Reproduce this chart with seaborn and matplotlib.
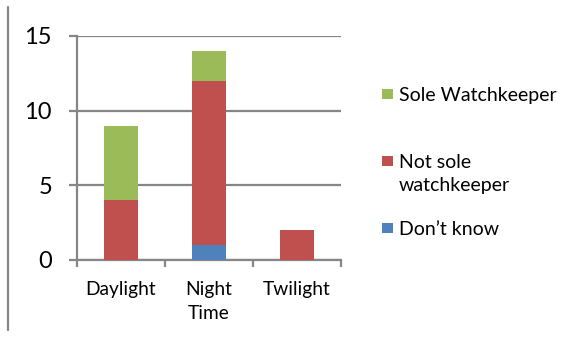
import matplotlib
matplotlib.use("Agg")
import matplotlib.pyplot as plt
import seaborn as sns
import pandas as pd
import numpy as np
from matplotlib.patches import Rectangle
from matplotlib.lines import Line2D

categories = ["Daylight", "Night\nTime", "Twilight"]
dont_know = [0, 1, 0]
not_sole = [4, 11, 2]
sole = [5, 2, 0]
series_names = ["Sole Watchkeeper", "Not sole\nwatchkeeper", "Don\u2019t know"]
colors = ["#9BBB59", "#C0504D", "#4F81BD"]
yticks = [0, 5, 10, 15]

sns.set_theme(style="white")
plt.rcParams["font.family"] = ["Lato", "DejaVu Sans"]

W, H = 577, 337
fig = plt.figure(figsize=(W/100, H/100), dpi=100)
ax = fig.add_axes([77/W, 1-260/H, (341-77)/W, (260-36)/H])

c1 = np.array(dont_know)
c2 = c1 + np.array(not_sole)
c3 = c2 + np.array(sole)
df = pd.DataFrame({"cat": categories, "c1": c1, "c2": c2, "c3": c3})

for col, color in zip(["c3", "c2", "c1"], colors):
    sns.barplot(data=df, x="cat", y=col, color=color, width=0.39, ax=ax,
                saturation=1, linewidth=0, zorder=3)

gray = "#868686"
ax.set_ylim(0, 15)
ax.set_xlim(-0.5, 2.5)
ax.set_yticks(yticks)
ax.set_yticklabels([str(v) for v in yticks], fontsize=17)
ax.yaxis.grid(True, color=gray, linewidth=1.6, zorder=0)
ax.set_axisbelow(True)
ax.set_xlabel("")
ax.set_ylabel("")
for s in ["top", "right"]:
    ax.spines[s].set_visible(False)
for s in ["left", "bottom"]:
    ax.spines[s].set_color(gray)
    ax.spines[s].set_linewidth(1.6)
ax.tick_params(axis="y", which="major", direction="out", length=6, width=1.6,
               color=gray, pad=12, left=True, labelcolor="black")
ax.tick_params(axis="x", which="major", length=0, pad=15, labelsize=13.8,
               labelcolor="black")
ax.set_xticks([-0.5, 0.5, 1.5, 2.5], minor=True)
ax.tick_params(axis="x", which="minor", direction="out", length=5, width=1.6,
               color=gray, bottom=True)
for lbl in ax.get_xticklabels():
    lbl.set_linespacing(1.5)

# legend drawn manually so the swatch aligns with the first text line
leg_y = [94, 161, 228]
for name, color, yy in zip(series_names, colors, leg_y):
    fig.add_artist(Rectangle((382/W, 1-(yy+5)/H), 11/W, 10/H,
                             transform=fig.transFigure, facecolor=color,
                             edgecolor="none"))
    fig.text(399/W, 1-(yy-7)/H, name, fontsize=14, va="top", ha="left",
             linespacing=1.45, color="black")

fig.add_artist(Line2D([8/W, 8/W], [1-7/H, 1-330/H], color=gray,
                      linewidth=1.6, transform=fig.transFigure))

fig.savefig("out.png", dpi=100)
